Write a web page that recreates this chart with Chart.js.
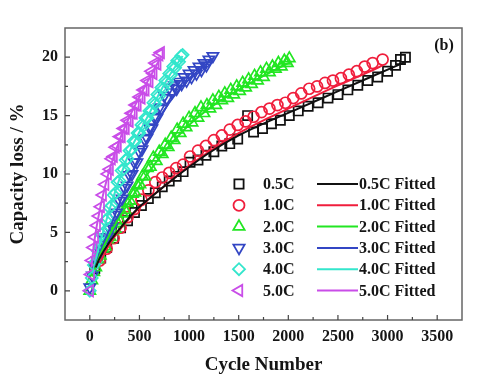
<!DOCTYPE html>
<html>
<head>
<meta charset="utf-8">
<script src="https://cdn.jsdelivr.net/npm/chart.js@4.4.1/dist/chart.umd.min.js"></script>
<style>
  html, body { margin: 0; padding: 0; background: #fff; }
</style>
</head>
<body>
<canvas id="myChart" width="484" height="392"></canvas>
<script>
// values: cycle number vs capacity loss (%)
const rates = ['0.5C', '1.0C', '2.0C', '3.0C', '4.0C', '5.0C'];

const cyc05 = [50, 110, 170, 240, 310, 380, 450, 520, 590, 660, 730, 800, 870, 940, 1010, 1090, 1170, 1250, 1330, 1410, 1490, 1590, 1650, 1740, 1830, 1920, 2010, 2100, 2200, 2300, 2400, 2500, 2600, 2700, 2800, 2900, 3000, 3080, 3130, 3180];
const loss05 = [1.9, 2.8, 3.7, 4.5, 5.4, 6.0, 6.7, 7.3, 7.9, 8.4, 8.9, 9.4, 9.8, 10.2, 11.0, 11.2, 11.6, 11.9, 12.4, 12.6, 13.0, 15.0, 13.6, 13.9, 14.3, 14.6, 15.0, 15.4, 15.8, 16.1, 16.5, 16.8, 17.2, 17.6, 18.0, 18.3, 18.8, 19.3, 19.8, 20.0];

const cyc10 = [100, 170, 240, 310, 380, 450, 520, 590, 660, 730, 800, 870, 940, 1010, 1090, 1170, 1250, 1330, 1410, 1490, 1570, 1650, 1730, 1810, 1890, 1970, 2050, 2130, 2210, 2290, 2370, 2450, 2530, 2610, 2690, 2770, 2850, 2950];
const loss10 = [2.6, 3.6, 4.5, 5.4, 6.3, 7.0, 7.8, 8.6, 9.3, 9.7, 10.1, 10.5, 10.8, 11.5, 12.0, 12.4, 12.9, 13.3, 13.8, 14.2, 14.5, 14.9, 15.3, 15.6, 15.9, 16.1, 16.5, 16.9, 17.3, 17.5, 17.8, 18.0, 18.2, 18.5, 18.8, 19.2, 19.5, 19.8];

const cyc20 = [0, 20, 40, 60, 80, 105, 130, 155, 180, 205, 230, 255, 280, 305, 330, 355, 380, 405, 430, 455, 480, 505, 530, 555, 580, 610, 640, 670, 700, 730, 760, 790, 820, 850, 880, 910, 940, 970, 1000, 1030, 1060, 1090, 1120, 1150, 1180, 1210, 1240, 1270, 1300, 1330, 1360, 1390, 1420, 1450, 1480, 1510, 1540, 1570, 1600, 1630, 1660, 1690, 1720, 1750, 1780, 1810, 1840, 1870, 1900, 1930, 1960, 1990, 2010];
const loss20 = [0.0, 0.9, 1.6, 2.0, 2.7, 3.0, 3.6, 3.8, 4.4, 4.6, 5.1, 5.3, 5.8, 6.0, 6.6, 6.9, 7.5, 7.7, 8.3, 8.4, 9.0, 9.1, 9.8, 9.8, 10.5, 10.6, 11.4, 11.1, 11.9, 11.7, 12.5, 12.3, 13.1, 12.9, 13.8, 13.5, 14.3, 14.0, 14.8, 14.4, 15.2, 14.8, 15.7, 15.2, 15.9, 15.6, 16.3, 15.9, 16.6, 16.3, 16.9, 16.5, 17.2, 16.8, 17.5, 17.1, 17.8, 17.4, 18.1, 17.7, 18.4, 18.0, 18.7, 18.3, 19.0, 18.7, 19.2, 19.0, 19.5, 19.2, 19.7, 19.5, 19.9];

const cyc30 = [0, 25, 50, 75, 100, 125, 150, 175, 200, 225, 250, 275, 300, 325, 350, 375, 400, 425, 450, 475, 500, 525, 550, 575, 600, 625, 650, 675, 700, 725, 750, 775, 800, 825, 850, 875, 900, 925, 950, 975, 1000, 1025, 1050, 1075, 1100, 1125, 1150, 1175, 1200, 1240];
const loss30 = [0.3, 1.3, 2.2, 2.6, 3.4, 3.6, 4.4, 4.6, 5.3, 5.5, 6.5, 6.7, 7.7, 7.9, 8.8, 9.0, 9.9, 10.0, 11.0, 11.0, 11.9, 12.1, 13.0, 13.1, 14.0, 13.9, 14.9, 14.8, 15.7, 15.6, 16.7, 16.5, 17.4, 17.0, 17.6, 17.3, 17.9, 17.7, 18.3, 18.0, 18.6, 18.3, 18.9, 18.6, 19.2, 18.9, 19.5, 19.3, 19.8, 20.1];

const cyc40 = [0, 20, 40, 60, 80, 100, 120, 140, 160, 180, 200, 220, 240, 260, 280, 300, 320, 340, 360, 380, 400, 420, 440, 460, 480, 500, 520, 540, 560, 580, 600, 620, 640, 660, 680, 700, 720, 740, 760, 780, 800, 820, 840, 860, 880, 900, 920, 935];
const loss40 = [0.0, 1.1, 2.2, 2.5, 3.4, 3.8, 4.8, 5.0, 6.0, 6.2, 7.1, 7.3, 8.2, 8.4, 9.3, 9.4, 10.3, 10.4, 11.2, 11.3, 12.0, 12.1, 12.8, 12.8, 13.5, 13.5, 14.2, 14.1, 14.8, 14.8, 15.4, 15.4, 16.1, 16.0, 16.8, 16.7, 17.4, 17.3, 18.0, 17.9, 18.6, 18.5, 19.2, 19.1, 19.7, 19.6, 20.1, 20.2];

const cyc50 = [0, 10, 20, 35, 50, 70, 90, 110, 130, 155, 180, 200, 220, 240, 260, 280, 300, 320, 340, 360, 380, 400, 420, 440, 460, 480, 500, 520, 540, 560, 580, 600, 620, 640, 660, 680, 700, 715];
const loss50 = [0.0, 1.4, 2.6, 3.7, 4.6, 5.6, 6.4, 7.2, 8.2, 9.1, 10.0, 10.4, 11.3, 11.5, 12.3, 12.4, 13.2, 13.2, 13.9, 13.9, 14.6, 14.5, 15.2, 15.2, 15.9, 15.9, 16.6, 16.5, 17.2, 17.2, 18.0, 17.9, 18.8, 18.6, 19.5, 19.4, 20.2, 20.4];

// fitted curves
const fitCyc05 = [60, 100, 200, 300, 400, 500, 600, 800, 1000, 1200, 1500, 1800, 2100, 2450, 2800, 3180];
const fitLoss05 = [2.0, 2.8, 4.2, 5.3, 6.3, 7.2, 7.9, 9.3, 10.6, 11.8, 13.3, 14.5, 15.6, 16.9, 18.2, 19.6];
const fitCyc10 = [100, 200, 300, 400, 500, 600, 800, 1000, 1200, 1500, 1800, 2100, 2450, 2800, 2950];
const fitLoss10 = [2.4, 4.0, 5.2, 6.2, 7.1, 7.9, 9.3, 10.7, 11.9, 13.5, 14.8, 16.0, 17.4, 18.7, 19.3];
const fitCyc20 = [50, 100, 200, 300, 400, 500, 650, 800, 1000, 1250, 1500, 1750, 2000];
const fitLoss20 = [1.8, 3.0, 4.8, 6.3, 7.7, 9.0, 10.8, 12.4, 14.2, 15.9, 17.2, 18.4, 19.5];
const fitCyc30 = [50, 100, 200, 300, 400, 500, 600, 700, 800, 900, 1000, 1100, 1240];
const fitLoss30 = [1.9, 3.2, 5.3, 7.5, 9.6, 11.5, 13.2, 14.8, 16.1, 17.2, 18.1, 18.9, 19.9];
const fitCyc40 = [30, 50, 100, 200, 300, 400, 500, 600, 700, 800, 935];
const fitLoss40 = [1.6, 2.3, 4.0, 7.0, 9.6, 11.9, 13.6, 15.2, 16.9, 18.4, 20.1];
const fitCyc50 = [15, 50, 100, 150, 200, 300, 400, 500, 600, 715];
const fitLoss50 = [2.0, 4.5, 6.9, 8.8, 10.4, 12.9, 14.9, 16.6, 18.2, 20.0];

const xTicks = [0, 500, 1000, 1500, 2000, 2500, 3000, 3500];
const yTicks = [0, 5, 10, 15, 20];

const colors = ['#111111', '#f01e3c', '#22e622', '#3346c4', '#33e6cc', '#c94de8'];
const shapes = ['rect', 'circle', 'triangle', 'triangle', 'rectRot', 'triangle'];
const turns = [0, 0, 0, 180, 0, 270];
const sizes = [6.5, 5.5, 6.5, 6.5, 6, 6.5];

const points = [[cyc05, loss05], [cyc10, loss10], [cyc20, loss20], [cyc30, loss30], [cyc40, loss40], [cyc50, loss50]];
const fits = [[fitCyc05, fitLoss05], [fitCyc10, fitLoss10], [fitCyc20, fitLoss20], [fitCyc30, fitLoss30], [fitCyc40, fitLoss40], [fitCyc50, fitLoss50]];

function toXY(xs, ys) {
    return xs.map((x, i) => ({ x: x, y: ys[i] }));
}

const datasets = [];
rates.forEach((r, i) => {
    datasets.push({
        label: r,
        data: toXY(points[i][0], points[i][1]),
        showLine: false,
        pointStyle: shapes[i],
        pointRotation: turns[i],
        pointRadius: sizes[i],
        pointBorderWidth: 1.7,
        pointBorderColor: colors[i],
        pointBackgroundColor: 'rgba(0,0,0,0)',
        order: 12 - i
    });
});
rates.forEach((r, i) => {
    datasets.push({
        label: r + ' Fitted',
        data: toXY(fits[i][0], fits[i][1]),
        showLine: true,
        borderColor: colors[i],
        borderWidth: 2,
        pointRadius: 0,
        cubicInterpolationMode: 'monotone',
        order: i
    });
});

const fontFamily = "'Liberation Serif', 'Times New Roman', serif";

// frame, inside ticks, legend and panel label
const decorations = {
    id: 'decorations',
    afterDatasetsDraw(chart) {
        const ctx = chart.ctx;
        const a = chart.chartArea;
        const xs = chart.scales.x;
        const ys = chart.scales.y;
        ctx.save();
        ctx.strokeStyle = '#666';
        ctx.lineWidth = 1.5;
        ctx.strokeRect(a.left, a.top, a.right - a.left, a.bottom - a.top);

        ctx.lineWidth = 1.2;
        ctx.strokeStyle = '#444';
        ctx.beginPath();
        xTicks.forEach(v => {
            const px = xs.getPixelForValue(v);
            ctx.moveTo(px, a.bottom);
            ctx.lineTo(px, a.bottom - 5);
            const pm = xs.getPixelForValue(v + 250);
            if (pm < a.right) {
                ctx.moveTo(pm, a.bottom);
                ctx.lineTo(pm, a.bottom - 3);
            }
        });
        yTicks.forEach(v => {
            const py = ys.getPixelForValue(v);
            ctx.moveTo(a.left, py);
            ctx.lineTo(a.left + 5, py);
            const pm = ys.getPixelForValue(v + 2.5);
            if (pm > a.top) {
                ctx.moveTo(a.left, pm);
                ctx.lineTo(a.left + 3, pm);
            }
        });
        ctx.stroke();

        // legend
        ctx.font = 'bold 16px ' + fontFamily;
        ctx.textBaseline = 'middle';
        ctx.textAlign = 'left';
        rates.forEach((r, i) => {
            const y = 184 + i * 21.3;
            ctx.strokeStyle = colors[i];
            ctx.fillStyle = 'rgba(0,0,0,0)';
            ctx.lineWidth = 1.8;
            Chart.helpers.drawPoint(ctx, {
                pointStyle: shapes[i], rotation: turns[i], radius: sizes[i], borderWidth: 1.8
            }, 239, y);
            ctx.lineWidth = 2;
            ctx.beginPath();
            ctx.moveTo(317, y);
            ctx.lineTo(358, y);
            ctx.stroke();
            ctx.fillStyle = '#151515';
            ctx.fillText(r, 263, y + 1);
            ctx.fillText(r + ' Fitted', 359, y + 1);
        });

        ctx.textAlign = 'center';
        ctx.fillText('(b)', 444, 46);
        ctx.restore();
    }
};

const ctx = document.getElementById('myChart');

new Chart(ctx, {
    type: 'scatter',
    data: { datasets: datasets },
    options: {
        responsive: false,
        animation: false,
        devicePixelRatio: 1,
        layout: { padding: { top: 28, right: 22, left: 0, bottom: 0 } },
        plugins: {
            legend: { display: false },
            tooltip: { enabled: false }
        },
        scales: {
            x: {
                min: -250,
                max: 3750,
                grid: { display: false, drawTicks: false },
                border: { display: false },
                afterBuildTicks: s => { s.ticks = xTicks.map(v => ({ value: v })); },
                afterFit: s => { s.height = 72; },
                ticks: {
                    padding: 7,
                    color: '#151515',
                    callback: v => String(v),
                    font: { family: fontFamily, size: 16, weight: 'bold' }
                },
                title: {
                    display: true,
                    text: 'Cycle Number',
                    color: '#151515',
                    padding: { bottom: 16 },
                    font: { family: fontFamily, size: 19, weight: 'bold' }
                }
            },
            y: {
                min: -2.5,
                max: 22.5,
                grid: { display: false, drawTicks: false },
                border: { display: false },
                afterBuildTicks: s => { s.ticks = yTicks.map(v => ({ value: v })); },
                afterFit: s => { s.width = 65; },
                ticks: {
                    padding: 7,
                    color: '#151515',
                    callback: v => String(v),
                    font: { family: fontFamily, size: 16, weight: 'bold' }
                },
                title: {
                    display: true,
                    text: 'Capacity loss / %',
                    color: '#151515',
                    padding: { top: 7 },
                    font: { family: fontFamily, size: 19, weight: 'bold' }
                }
            }
        }
    },
    plugins: [decorations]
});
</script>
</body>
</html>
